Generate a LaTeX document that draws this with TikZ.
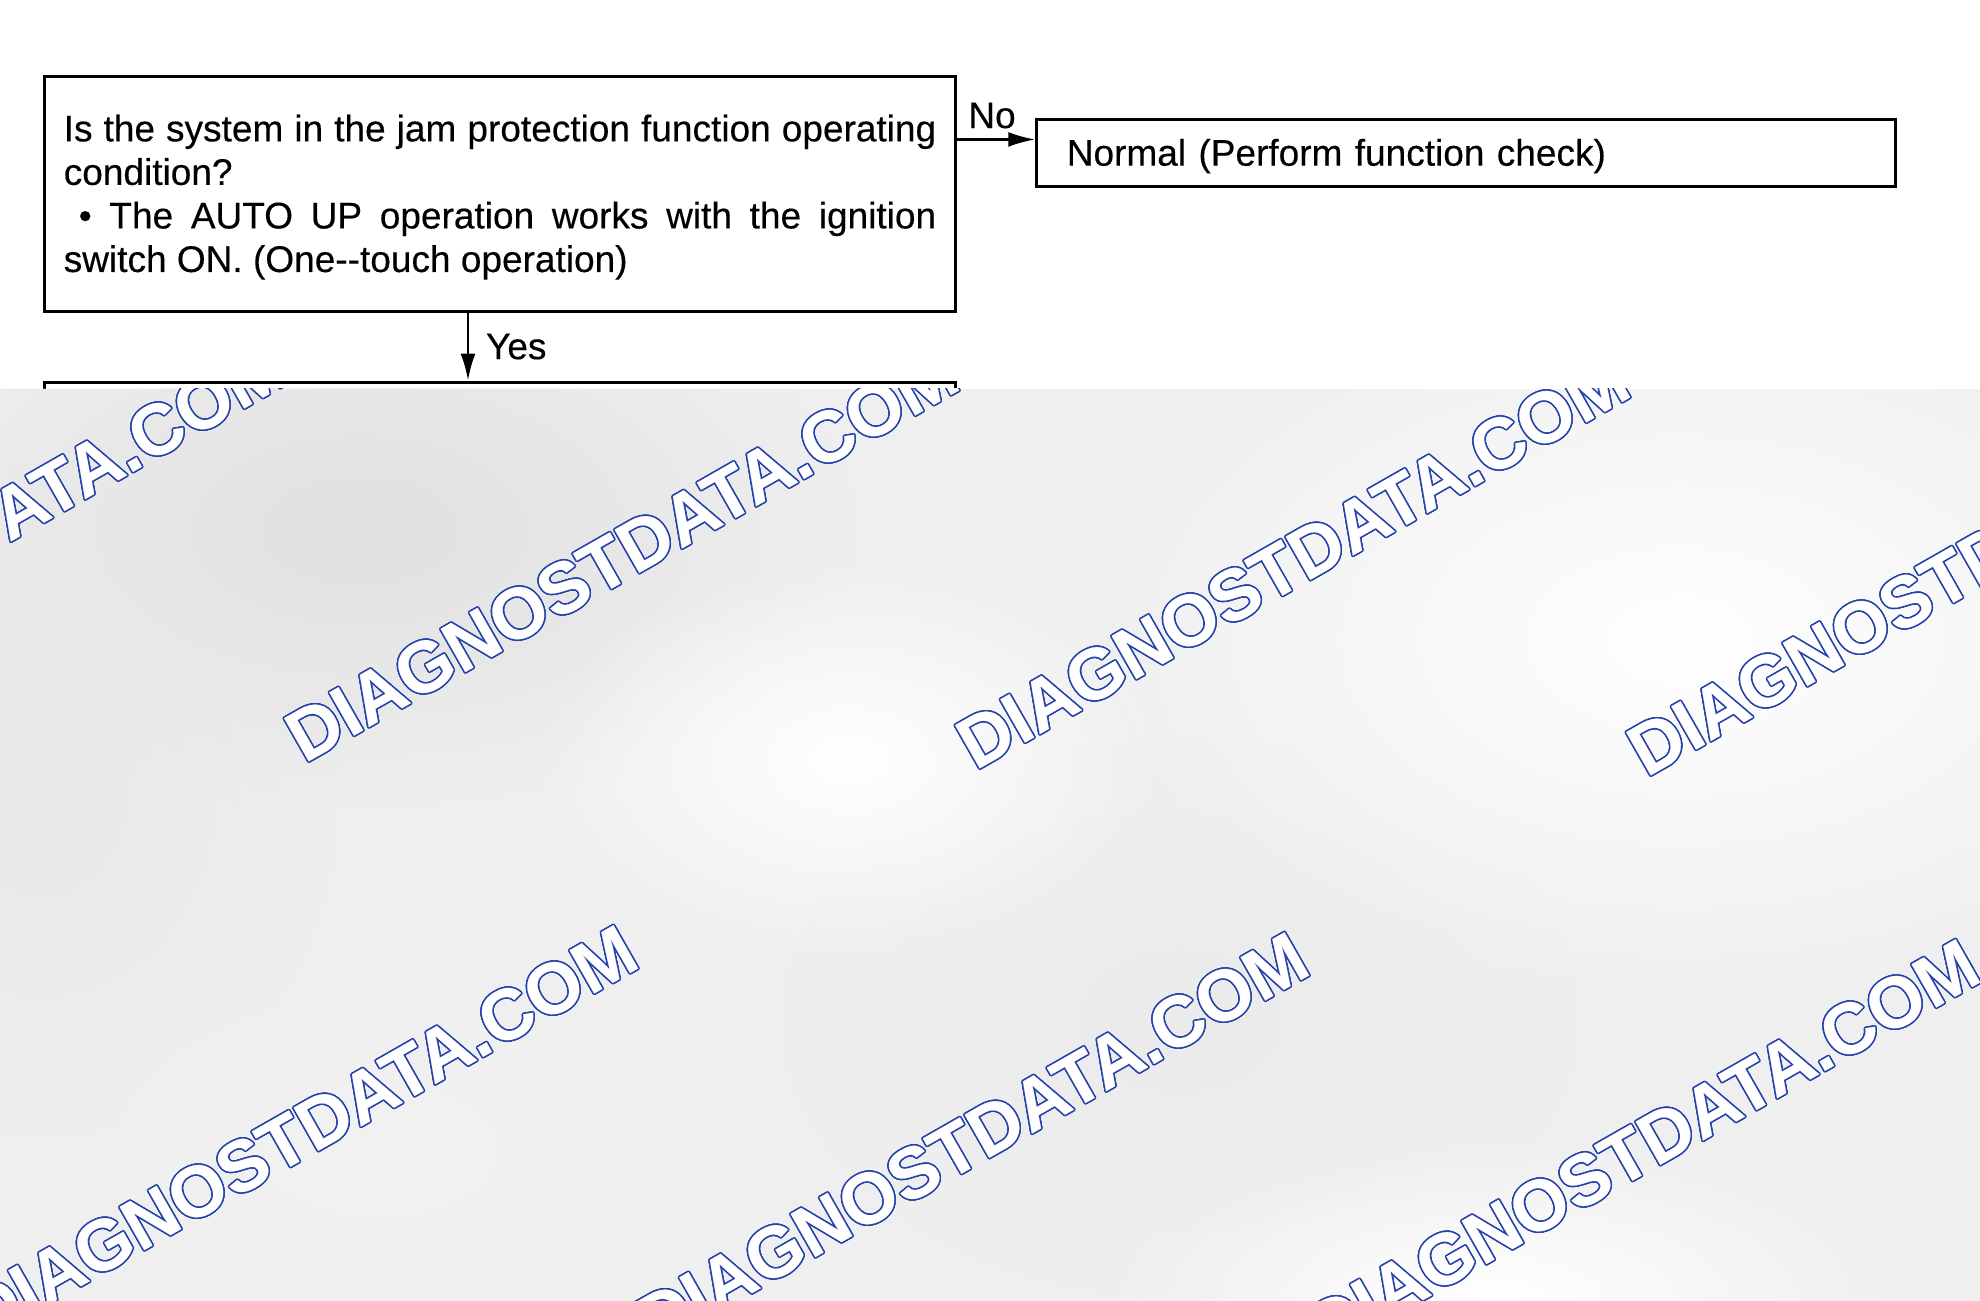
\documentclass[tikz,border=0pt]{standalone}
\usepackage{fontspec}
\setmainfont[FakeBold=0.3]{Liberation Sans}
\usetikzlibrary{arrows.meta,positioning,fadings}
\setlength{\parindent}{0pt}

\definecolor{wmblue}{RGB}{36,66,170}
\definecolor{paper}{RGB}{239,239,239}

\tikzfading[name=blobfade, inner color=transparent!0, outer color=transparent!100]

\newcommand{\boxfont}{\fontsize{10.53pt}{12.38pt}\selectfont}
\newcommand{\wmfont}{\fontsize{20.5pt}{20.5pt}\selectfont\bfseries}

\tikzset{
  qbox/.style={draw, line width=0.03cm, inner ysep=0pt, align=justify},
  flow/.style={line width=0.026cm, -{Latex[length=0.27cm, width=0.15cm]}},
  wmtext/.style={font=\wmfont, rotate=29.7, anchor=base west, inner sep=0pt},
  blob/.style={path fading=blobfade},
}

% outlined watermark: blue copies round a white one
\newcommand{\wmark}[2]{%
  \foreach \a in {0,30,...,330}
    \node[wmtext, text=wmblue, shift={(\a:0.016cm)}] at #2 {DIAGNOSTDATA.COM};
  \node[wmtext, text=white] (#1) at #2 {DIAGNOSTDATA.COM};}

\begin{document}
\begin{tikzpicture}[x=0.01cm, y=-0.01cm, font=\boxfont]
  \useasboundingbox (0,0) rectangle (1980,1301);
  \fill[white] (0,0) rectangle (1980,1301);
  %boxes
  \node[qbox, text width=8.72cm, inner xsep=0.19cm, minimum height=2.34cm] (q1) at (500,194)
    {\rule{0pt}{0.33cm}Is the system in the jam protection function operating\linebreak condition?\par
     \hspace*{0.15cm}•\ The AUTO UP operation works with the ignition\linebreak switch ON. (One-{}-touch operation)};
  \node[qbox, align=left, text width=7.98cm, inner xsep=0.30cm, minimum height=0.66cm] (q2) at (1466,153)
    {\rule{0pt}{0.33cm}Normal (Perform function check)};
  \node[qbox, minimum width=9.1cm, minimum height=2cm, below=0.68cm of q1] (q3) {};
  %No
  \coordinate (nostart) at ([yshift=-0.64cm]q1.north east);
  \draw[flow] (nostart) -- (nostart -| q2.west) node[midway, above=-0.02cm, xshift=-0.04cm] (nolabel) {No};
  %Yes
  \coordinate (yesx) at (468,0);
  \draw[flow] (yesx |- q1.south) -- (yesx |- q3.north) node[midway, right=0.05cm] (yeslabel) {Yes};
  %grey sheet with watermarks
  \begin{scope}
    \clip (0,389) rectangle (1980,1301);
    \fill[paper] (0,389) rectangle (1980,1301);
    \fill[black!12, blob] (360,530) ellipse [x radius=5cm, y radius=2.8cm];
    \fill[black!9, blob] (40,800) ellipse [x radius=3cm, y radius=3.4cm];
    \fill[black!8, blob] (1180,1020) ellipse [x radius=4cm, y radius=2.8cm];
    \fill[black!5, blob] (380,1150) ellipse [x radius=3.5cm, y radius=2cm];
    \fill[white, blob] (1680,640) ellipse [x radius=6cm, y radius=3.6cm];
    \fill[white, blob] (850,760) ellipse [x radius=3.2cm, y radius=2cm];
    \fill[white, blob] (1500,1300) ellipse [x radius=4cm, y radius=1.6cm];
    \wmark{wmA}{(-367,757)}
    \wmark{wmB}{(304,764)}
    \wmark{wmC}{(975,771)}
    \wmark{wmD}{(1646,778)}
    \wmark{wmE}{(-17,1342)}
    \wmark{wmF}{(654,1349)}
    \wmark{wmG}{(1325,1356)}
  \end{scope}
\end{tikzpicture}
\end{document}
